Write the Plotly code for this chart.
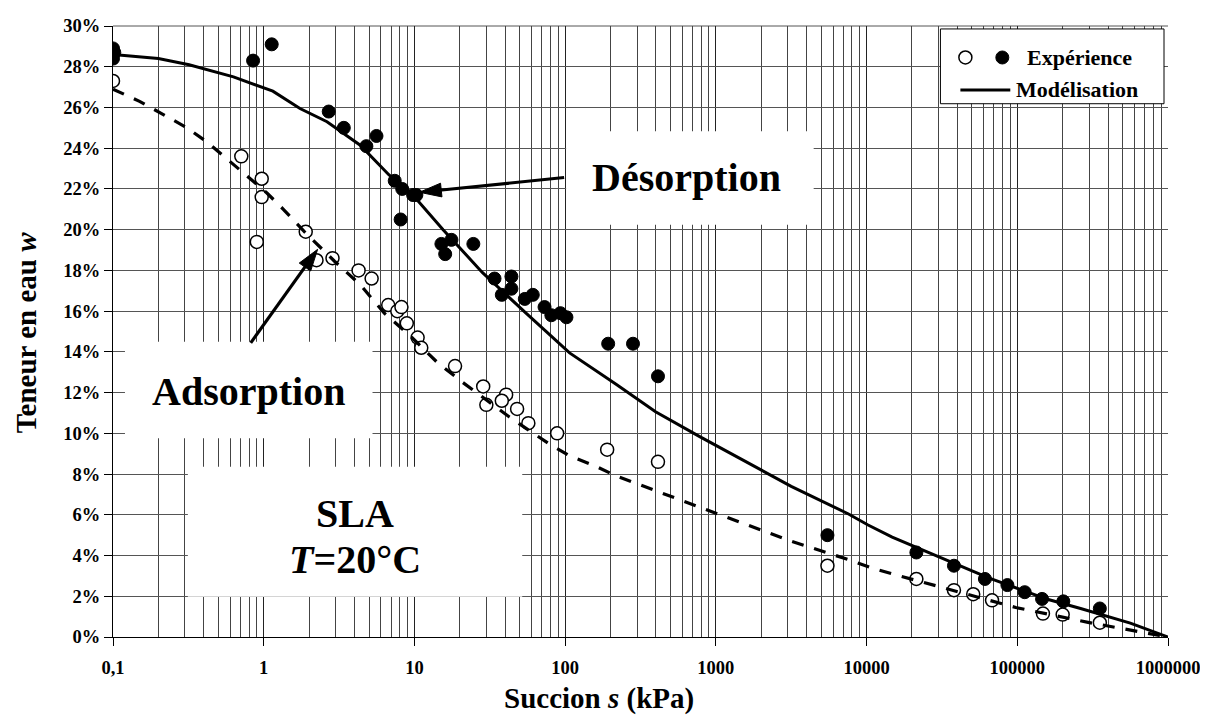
import plotly.graph_objects as go

# ---------------- data ----------------
# Desorption (filled circles): suction s (kPa), water content w (%)
s_des = [0.1, 0.102, 0.1, 0.85, 1.13, 2.7, 3.4, 4.8, 5.6, 7.4, 8.3, 9.8, 10.3, 8.1,
         15.1, 16.0, 17.6, 24.6, 34, 44, 44, 38, 54, 61, 73, 81, 93, 102,
         193, 282, 413, 5500, 21400, 38000, 61000, 86000, 112000, 146000, 202000, 353000]
w_des = [28.9, 28.7, 28.4, 28.3, 29.1, 25.8, 25.0, 24.1, 24.6, 22.4, 22.0, 21.7, 21.7, 20.5,
         19.3, 18.8, 19.5, 19.3, 17.6, 17.7, 17.1, 16.8, 16.6, 16.8, 16.2, 15.8, 15.9, 15.7,
         14.4, 14.4, 12.8, 5.0, 4.15, 3.5, 2.85, 2.55, 2.2, 1.87, 1.75, 1.4]

# Adsorption (open circles)
s_ads = [0.1, 0.71, 0.97, 0.97, 0.9, 1.9, 2.24, 2.86, 4.26, 5.2, 6.7, 7.7, 8.2, 8.9,
         10.5, 11.1, 18.6, 28.6, 30, 40.6, 38, 48, 57, 88.5, 190, 413,
         5500, 21400, 38000, 51000, 68000, 148000, 200000, 353000]
w_ads = [27.3, 23.6, 22.5, 21.6, 19.4, 19.9, 18.5, 18.6, 18.0, 17.6, 16.3, 16.0, 16.2, 15.4,
         14.7, 14.2, 13.3, 12.3, 11.4, 11.9, 11.6, 11.2, 10.5, 10.0, 9.2, 8.6,
         3.5, 2.85, 2.3, 2.1, 1.8, 1.15, 1.1, 0.7]

# Model - desorption (solid line)
s_mod_des = [0.1, 0.2, 0.32, 0.63, 1.15, 1.74, 2.63, 4.37, 6.76, 9.77, 15.5, 28.2, 55,
             107, 219, 398, 776, 1585, 3162, 7586, 10233, 14791, 30200, 64565,
             158489, 199526, 263027, 562341, 1000000]
w_mod_des = [28.6, 28.4, 28.1, 27.5, 26.8, 25.95, 25.3, 24.15, 22.7, 21.7, 20.0, 17.9, 15.9,
             13.95, 12.4, 11.06, 9.85, 8.6, 7.4, 6.04, 5.5, 4.9, 3.95, 2.9,
             1.85, 1.65, 1.4, 0.68, 0.0]

# Model - adsorption (dashed line)
s_mod_ads = [0.1, 0.15, 0.21, 0.31, 0.43, 0.63, 1.05, 1.35, 1.86, 2.95, 4.37, 6.31, 9.33,
             14.1, 20.9, 42.7, 77.6, 107, 158, 219, 1000, 3162, 7586, 10715, 14791,
             31623, 97724, 295121, 741310, 1000000]
w_mod_ads = [26.9, 26.3, 25.7, 25.0, 24.25, 23.2, 21.8, 21.0, 19.9, 18.45, 17.3, 15.9, 14.8,
             13.5, 12.5, 10.8, 9.5, 8.9, 8.4, 7.9, 6.1, 4.7, 3.8, 3.4, 3.1,
             2.45, 1.45, 0.72, 0.19, 0.0]

x_tick_vals = [0.1, 1, 10, 100, 1000, 10000, 100000, 1000000]
x_tick_text = ["0,1", "1", "10", "100", "1000", "10000", "100000", "1000000"]
y_tick_vals = [0, 2, 4, 6, 8, 10, 12, 14, 16, 18, 20, 22, 24, 26, 28, 30]
y_tick_text = [f"{v}%" for v in y_tick_vals]

legend_labels = ["Expérience", "Modélisation"]

# ---------------- figure ----------------
# The page body has an 8px margin, so the figure is drawn 8px smaller and
# every position below is given in window pixels of the reference.
OFF = 8
WIN_W, WIN_H = 1208, 722
W, H = WIN_W - OFF, WIN_H - OFF
L, R, T, B = 113, 1170, 16, 637  # plot area in window pixels

def px(x):
    return (x - L) / (R - L)

def py(y):
    return (B - y) / (B - T)

FONT = "Liberation Serif, Times New Roman, serif"

fig = go.Figure()

fig.add_trace(go.Scatter(
    x=s_ads, y=w_ads, mode="markers", showlegend=False,
    marker=dict(symbol="circle", size=13, color="white", line=dict(color="black", width=1.5)),
))
fig.add_trace(go.Scatter(
    x=s_des, y=w_des, mode="markers", showlegend=False,
    marker=dict(symbol="circle", size=13, color="black", line=dict(color="black", width=1)),
))
fig.add_trace(go.Scatter(
    x=s_mod_ads, y=w_mod_ads, mode="lines", showlegend=False,
    line=dict(color="black", width=3.2, dash="12px,11px"),
))
fig.add_trace(go.Scatter(
    x=s_mod_des, y=w_mod_des, mode="lines", showlegend=False,
    line=dict(color="black", width=3),
))

minor_vals = [m * 10 ** e for e in range(-1, 6) for m in range(2, 10)]

fig.update_xaxes(
    type="log", range=[-1, 6],
    tickmode="array", tickvals=x_tick_vals, ticktext=x_tick_text,
    ticks="outside", ticklen=8, tickcolor="black", tickwidth=1,
    showgrid=True, gridcolor="#222", gridwidth=1,
    minor=dict(tickmode="array", tickvals=minor_vals, showgrid=True,
               gridcolor="#444", gridwidth=1, ticks=""),
    showline=True, linecolor="black", linewidth=1.3,
    tickfont=dict(family=FONT, size=18.5, color="black", weight="bold"),
    ticklabelstandoff=6, ticklabeloverflow="allow",
    zeroline=False,
)
fig.update_yaxes(
    range=[0, 30], tickmode="array", tickvals=y_tick_vals, ticktext=y_tick_text,
    ticks="outside", ticklen=8, tickcolor="black", tickwidth=1,
    showgrid=True, gridcolor="#555", gridwidth=1,
    showline=True, linecolor="black", linewidth=1.3,
    mirror=False,
    tickfont=dict(family=FONT, size=18.5, color="black", weight="bold"),
    ticklabeloverflow="allow",
    zeroline=False,
)

shapes = []
annotations = []

# top border of the plot area (the 30% grid line)
shapes.append(dict(type="line", xref="paper", yref="paper", x0=0, x1=1, y0=1, y1=1,
                   line=dict(color="#555", width=1), layer="below"))

def white_box(x0, y0, x1, y1, border=False):
    shapes.append(dict(type="rect", xref="paper", yref="paper",
                       x0=px(x0), x1=px(x1), y0=py(y1), y1=py(y0),
                       fillcolor="white",
                       line=dict(color="black" if border else "white", width=1 if border else 0),
                       layer="above"))

def text(xp, yp, s, size, anchor="center"):
    annotations.append(dict(xref="paper", yref="paper", x=px(xp), y=py(yp), text=s,
                            showarrow=False, xanchor=anchor, yanchor="middle",
                            font=dict(family=FONT, size=size, color="black", weight="bold")))

def arrow(x0, y0, x1, y1, head_len=22, half_w=7, width=3.2):
    dx, dy = x1 - x0, y1 - y0
    n = (dx * dx + dy * dy) ** 0.5
    ux, uy = dx / n, dy / n
    bx, by = x1 - head_len * ux, y1 - head_len * uy
    nx, ny = -uy, ux
    shapes.append(dict(type="line", xref="paper", yref="paper",
                       x0=px(x0), y0=py(y0), x1=px(bx + 2 * ux), y1=py(by + 2 * uy),
                       line=dict(color="black", width=width), layer="above"))
    c1 = (bx + half_w * nx, by + half_w * ny)
    c2 = (bx - half_w * nx, by - half_w * ny)
    path = (f"M {px(x1)} {py(y1)} L {px(c1[0])} {py(c1[1])} "
            f"L {px(c2[0])} {py(c2[1])} Z")
    shapes.append(dict(type="path", xref="paper", yref="paper", path=path,
                       fillcolor="black", line=dict(color="black", width=1), layer="above"))

# text boxes
white_box(567, 123, 815, 218)
white_box(125, 337, 373, 435)
white_box(188, 464, 523, 596)

text(688, 170, "Désorption", 40)
text(249, 387, "Adsorption", 40)
text(355, 511, "SLA", 40)
text(355, 558, "<i>T</i>=20°C", 40)

arrow(565, 170, 420, 185)
arrow(251, 338, 318, 243)

# legend
white_box(942, 19, 1166, 95, border=True)
shapes.append(dict(type="circle", xref="paper", yref="paper", xsizemode="pixel", ysizemode="pixel",
                   xanchor=px(967), yanchor=py(48), x0=-6.5, x1=6.5, y0=-6.5, y1=6.5,
                   fillcolor="white", line=dict(color="black", width=1.5), layer="above"))
shapes.append(dict(type="circle", xref="paper", yref="paper", xsizemode="pixel", ysizemode="pixel",
                   xanchor=px(1004), yanchor=py(48), x0=-6.5, x1=6.5, y0=-6.5, y1=6.5,
                   fillcolor="black", line=dict(color="black", width=1), layer="above"))
shapes.append(dict(type="line", xref="paper", yref="paper",
                   x0=px(962), x1=px(1012), y0=py(81), y1=py(81),
                   line=dict(color="black", width=3), layer="above"))
text(1027, 48, legend_labels[0], 22, anchor="left")
text(1016, 81, legend_labels[1], 22, anchor="left")

# axis titles
text(600, 700, "Succion <i>s</i> (kPa)", 29)
annotations.append(dict(xref="paper", yref="paper", x=px(26), y=py(328),
                        text="Teneur en eau <i>w</i>", showarrow=False, textangle=-90,
                        xanchor="center", yanchor="middle",
                        font=dict(family=FONT, size=29, color="black", weight="bold")))

fig.update_layout(
    width=W, height=H,
    margin=dict(l=L - OFF, r=WIN_W - R, t=T - OFF, b=(H + OFF) - B, pad=0),
    paper_bgcolor="white", plot_bgcolor="white",
    shapes=shapes, annotations=annotations,
    showlegend=False,
)

fig.write_html("out.html")
